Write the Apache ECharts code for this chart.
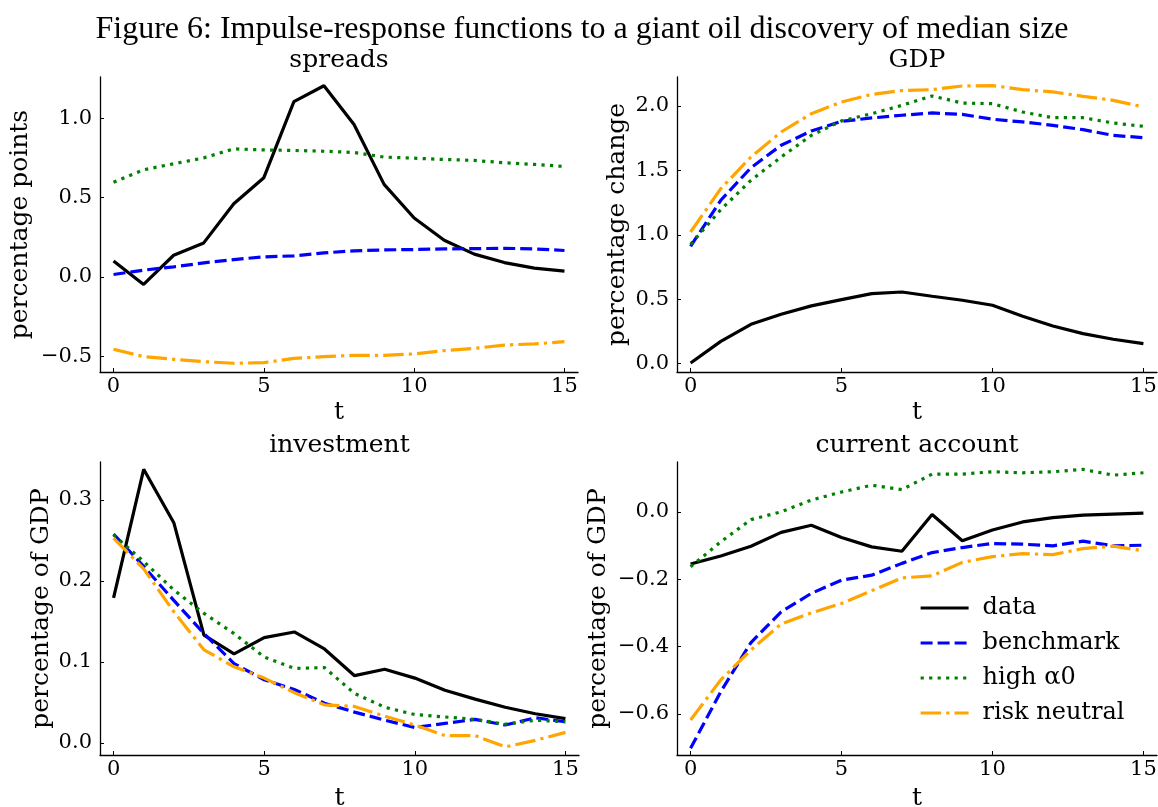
<!DOCTYPE html>
<html>
<head>
<meta charset="utf-8">
<script src="https://cdn.jsdelivr.net/npm/echarts@6/dist/echarts.min.js"></script>
<style>html,body{margin:0;padding:0;background:#fff}#c{width:1158px;height:807px}</style>
</head>
<body>
<div id="c"></div>
<script>
// ---- data ----
const t = [0,1,2,3,4,5,6,7,8,9,10,11,12,13,14,15];
const seriesNames = ['data', 'benchmark', 'high \u03b10', 'risk neutral'];
const panelTitles = ['spreads', 'GDP', 'investment', 'current account'];
const yLabels = ['percentage points', 'percentage change', 'percentage of GDP', 'percentage of GDP'];
const xTicks = [0, 5, 10, 15];
const yTicks1 = [-0.5, 0.0, 0.5, 1.0];
const yTicks2 = [0.0, 0.5, 1.0, 1.5, 2.0];
const yTicks3 = [0.0, 0.1, 0.2, 0.3];
const yTicks4 = [-0.6, -0.4, -0.2, 0.0];

// spreads
const spreadsData      = [0.10,-0.048,0.136,0.214,0.461,0.625,1.105,1.205,0.960,0.583,0.371,0.231,0.143,0.090,0.055,0.036];
const spreadsBench     = [0.015,0.042,0.063,0.088,0.109,0.126,0.132,0.151,0.164,0.170,0.172,0.176,0.178,0.180,0.176,0.166];
const spreadsHigh      = [0.597,0.675,0.713,0.750,0.807,0.800,0.797,0.792,0.784,0.755,0.748,0.740,0.734,0.719,0.709,0.696];
const spreadsRisk      = [-0.457,-0.503,-0.520,-0.535,-0.545,-0.541,-0.514,-0.503,-0.495,-0.495,-0.486,-0.465,-0.451,-0.430,-0.423,-0.409];
// GDP
const gdpData          = [0.005,0.173,0.305,0.383,0.448,0.497,0.543,0.556,0.523,0.492,0.453,0.367,0.292,0.233,0.189,0.155];
const gdpBench         = [0.911,1.268,1.521,1.695,1.806,1.881,1.907,1.928,1.946,1.935,1.897,1.876,1.850,1.816,1.772,1.754];
const gdpHigh          = [0.926,1.195,1.423,1.604,1.772,1.884,1.940,2.005,2.078,2.023,2.018,1.953,1.909,1.909,1.868,1.842];
const gdpRisk          = [1.022,1.358,1.604,1.798,1.940,2.031,2.090,2.120,2.127,2.155,2.158,2.127,2.109,2.075,2.044,1.992];
// investment
const invData          = [0.179,0.338,0.272,0.133,0.110,0.130,0.137,0.116,0.083,0.091,0.080,0.065,0.054,0.044,0.036,0.030];
const invBench         = [0.258,0.218,0.176,0.135,0.098,0.078,0.066,0.049,0.038,0.028,0.019,0.024,0.029,0.022,0.031,0.026];
const invHigh          = [0.257,0.224,0.189,0.160,0.135,0.106,0.092,0.093,0.061,0.044,0.035,0.032,0.029,0.023,0.028,0.026];
const invRisk          = [0.253,0.215,0.162,0.115,0.094,0.080,0.062,0.047,0.045,0.033,0.022,0.009,0.009,-0.005,0.003,0.013];
// current account
const caData           = [-0.155,-0.131,-0.102,-0.061,-0.040,-0.076,-0.104,-0.117,-0.008,-0.086,-0.054,-0.030,-0.017,-0.010,-0.007,-0.004];
const caBench          = [-0.702,-0.534,-0.388,-0.297,-0.242,-0.203,-0.188,-0.153,-0.121,-0.106,-0.094,-0.096,-0.101,-0.087,-0.101,-0.099];
const caHigh           = [-0.163,-0.089,-0.023,0.000,0.035,0.059,0.079,0.066,0.112,0.112,0.119,0.116,0.119,0.126,0.109,0.116];
const caRisk           = [-0.618,-0.499,-0.410,-0.333,-0.300,-0.272,-0.234,-0.196,-0.190,-0.150,-0.133,-0.124,-0.127,-0.109,-0.102,-0.116];

const panels = [
  [spreadsData, spreadsBench, spreadsHigh, spreadsRisk],
  [gdpData, gdpBench, gdpHigh, gdpRisk],
  [invData, invBench, invHigh, invRisk],
  [caData, caBench, caHigh, caRisk]
];
const yTickSets = [yTicks1, yTicks2, yTicks3, yTicks4];

// ---- layout / style ----
const grids = [
  {left: 100, top: 77, width: 478, height: 295},
  {left: 677, top: 77, width: 480, height: 295},
  {left: 100, top: 462, width: 479, height: 293},
  {left: 677, top: 462, width: 480, height: 293}
];
const yRanges = [[-0.6, 1.26], [-0.065, 2.225], [-0.015, 0.347], [-0.722, 0.148]];
const yNameGaps = [67, 47, 46, 66];
const xNameGaps = [28, 28, 31, 31];
const LW = 3.2;
const styles = [
  {color: '#000000', type: 'solid'},
  {color: '#0000ff', type: [12, 5]},
  {color: '#008000', type: [3.2, 5.3]},
  {color: '#ffa500', type: [20.5, 5.1, 3.2, 5.1]}
];
const SERIF = '"DejaVu Serif", serif';
const fmt = v => (Math.abs(v) < 1e-9 ? '0.0' : v.toFixed(1).replace('-', '\u2212'));

const option = {
  animation: false,
  backgroundColor: '#ffffff',
  title: [
    {text: 'Figure 6: Impulse-response functions to a giant oil discovery of median size',
     left: 582, textAlign: 'center', top: 14, padding: 0,
     textStyle: {fontFamily: '"Liberation Serif", serif', fontSize: 32, fontWeight: 'normal', color: '#000'}}
  ].concat(panelTitles.map((p, i) => ({
     text: p, left: grids[i].left + grids[i].width / 2, textAlign: 'center',
     top: grids[i].top - 29, padding: 0,
     textStyle: {fontFamily: SERIF, fontSize: 25, fontWeight: 'normal', color: '#000'}
  }))),
  legend: {
    orient: 'vertical', left: 914, top: 591,
    itemWidth: 48, itemHeight: 14, itemGap: 11,
    data: seriesNames,
    itemStyle: {opacity: 0, borderWidth: 0},
    lineStyle: {width: LW},
    textStyle: {fontFamily: SERIF, fontSize: 24, color: '#000', lineHeight: 24, padding: [0, 0, 0, 9]}
  },
  grid: grids.map(g => Object.assign({containLabel: false, outerBoundsMode: 'none'}, g)),
  xAxis: grids.map((g, i) => ({
    type: 'value', gridIndex: i, min: -0.45, max: 15.45,
    name: 't', nameLocation: 'middle', nameGap: xNameGaps[i],
    nameTextStyle: {fontFamily: SERIF, fontSize: 25, color: '#000'},
    axisLine: {show: true, onZero: false, lineStyle: {color: '#000', width: 1.3}},
    axisTick: {show: true, inside: true, length: 4, customValues: xTicks, lineStyle: {color: '#000', width: 1}},
    axisLabel: {customValues: xTicks, margin: 4, fontFamily: SERIF, fontSize: 21, color: '#000',
                formatter: v => String(v)},
    splitLine: {show: false}
  })),
  yAxis: grids.map((g, i) => ({
    type: 'value', gridIndex: i, min: yRanges[i][0], max: yRanges[i][1],
    name: yLabels[i], nameLocation: 'middle', nameGap: yNameGaps[i],
    nameTextStyle: {fontFamily: SERIF, fontSize: 25, color: '#000'},
    axisLine: {show: true, onZero: false, lineStyle: {color: '#000', width: 1.3}},
    axisTick: {show: true, inside: true, length: 4, customValues: yTickSets[i], lineStyle: {color: '#000', width: 1}},
    axisLabel: {customValues: yTickSets[i], margin: 8, fontFamily: SERIF, fontSize: 21, color: '#000',
                formatter: fmt},
    splitLine: {show: false}
  })),
  series: []
};

panels.forEach((arrs, pi) => {
  arrs.forEach((vals, si) => {
    option.series.push({
      type: 'line', name: seriesNames[si], xAxisIndex: pi, yAxisIndex: pi,
      data: t.map((x, k) => [x, vals[k]]),
      showSymbol: false, symbol: 'none', smooth: false,
      lineStyle: {color: styles[si].color, width: LW, type: styles[si].type},
      itemStyle: {color: styles[si].color},
      z: 2 + si
    });
  });
});

const chart = echarts.init(document.getElementById('c'), null, {renderer: 'canvas'});
chart.setOption(option);
</script>
</body>
</html>
